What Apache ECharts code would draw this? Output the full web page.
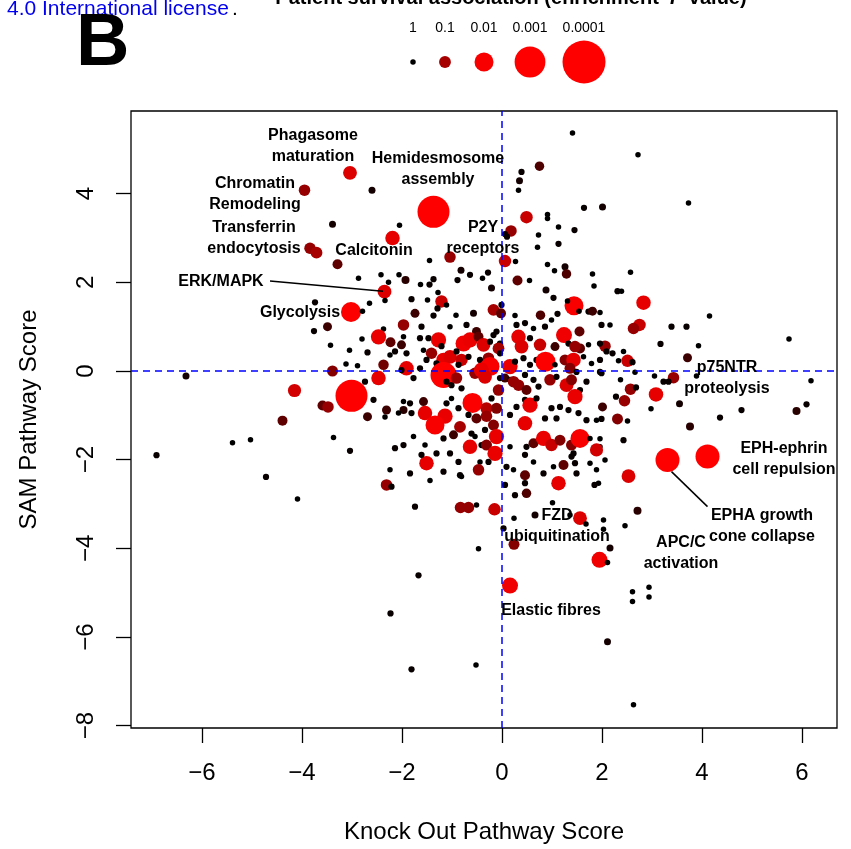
<!DOCTYPE html>
<html>
<head>
<meta charset="utf-8">
<title>Knock Out vs SAM pathway score</title>
<script src="https://cdn.jsdelivr.net/npm/echarts@6/dist/echarts.min.js"></script>
<style>
  html, body { margin: 0; padding: 0; background: #fff; }
  #chart { width: 851px; height: 849px; }
</style>
</head>
<body>
<div id="chart"></div>
<script>
// each point: [knock out pathway score, SAM pathway score, -log10 survival P]
var upperLeft = [
  [-3.04, 4.47, 1.4], [-2.60, 4.08, 0.2], [-3.95, 4.08, 0.9], [-3.39, 3.31, 0.2],
  [-3.84, 2.77, 0.9], [-3.71, 2.67, 1.0], [-3.29, 2.41, 0.6], [-2.87, 2.09, 0],
  [-3.74, 1.55, 0.1], [-3.02, 1.33, 2.1], [-2.79, 1.35, 0], [-2.65, 1.53, 0],
  [-2.35, 1.79, 1.4]
]
var upperMiddle = [
  [1.41, 5.37, 0], [0.75, 4.62, 0.5], [0.39, 4.49, 0.1], [0.35, 4.29, 0.2], [0.33, 4.08, 0],
  [-1.37, 3.59, 3.1], [1.64, 3.68, 0.1], [2.01, 3.70, 0.2], [0.49, 3.47, 1.2], [0.91, 3.53, 0],
  [0.91, 3.44, 0], [-2.05, 3.29, 0], [-2.19, 3.00, 1.5], [0.18, 3.16, 0.9], [0.06, 3.09, 0.1],
  [0.10, 3.03, 0.1], [1.13, 3.25, 0], [1.45, 3.18, 0.1], [0.73, 3.07, 0], [1.13, 2.87, 0.1],
  [0.71, 2.79, 0], [-1.04, 2.57, 0.9], [-1.45, 2.49, 0], [0.06, 2.48, 1.2], [0.27, 2.47, 0],
  [0.91, 2.40, 0], [1.05, 2.26, 0], [1.26, 2.35, 0.2], [1.29, 2.19, 0.5], [1.81, 2.19, 0],
  [1.84, 1.92, 0], [-0.82, 2.27, 0.2], [-0.64, 2.17, 0.1], [-0.28, 2.22, 0.1], [-0.39, 2.09, 0],
  [-0.89, 2.05, 0.1], [-1.37, 2.07, 0.1], [-1.93, 2.05, 0.3], [-2.42, 2.17, 0], [-2.27, 2.00, 0],
  [-2.06, 2.17, 0], [-1.63, 1.95, 0], [-1.45, 1.95, 0.1], [-1.28, 1.77, 0], [-2.34, 1.59, 0],
  [-1.81, 1.62, 0.1], [-1.49, 1.60, 0], [-1.21, 1.57, 1.2], [-1.29, 1.41, 0.1], [-1.11, 1.49, 0],
  [-0.21, 1.87, 0.2], [0.31, 2.04, 0.6], [0.55, 2.04, 0], [0.88, 1.83, 0.2], [1.03, 1.65, 0.1],
  [1.44, 1.47, 2.0], [1.31, 1.58, 0], [1.73, 1.34, 0.1], [1.81, 1.35, 0.4], [1.54, 1.35, 0],
  [-1.74, 1.30, 0.4], [-1.37, 1.25, 0.1], [-0.92, 1.26, 0], [-0.57, 1.30, 0.2], [-0.17, 1.38, 1.0],
  [-0.01, 1.49, 0.1], [-0.02, 1.30, 0.6], [0.26, 1.25, 0], [0.77, 1.26, 0.5], [1.11, 1.29, 0.1],
  [1.96, 1.32, 0]
]
var rightSide = [
  [2.72, 4.88, 0], [3.73, 3.79, 0], [2.57, 2.23, 0], [2.31, 1.80, 0.1], [2.39, 1.80, 0],
  [2.83, 1.54, 1.5], [4.15, 1.24, 0], [2.75, 1.04, 1.2], [2.63, 0.96, 0.9], [1.99, 1.04, 0.1],
  [2.16, 1.04, 0], [3.39, 1.00, 0.1], [3.69, 1.00, 0.1], [5.74, 0.72, 0], [3.17, 0.61, 0.1],
  [3.93, 0.57, 0], [2.06, 0.56, 0.9], [2.09, 0.44, 0.1], [2.21, 0.40, 0.1], [2.43, 0.44, 0],
  [2.33, 0.23, 0], [2.51, 0.23, 1.2], [2.61, 0.20, 0.1], [3.71, 0.30, 0.4], [1.99, -0.05, 0.1],
  [2.66, -0.03, 0], [3.05, -0.11, 0], [3.43, -0.15, 0.9], [3.23, -0.24, 0.1], [3.33, -0.24, 0.1],
  [3.89, -0.11, 0], [2.37, -0.20, 0], [6.18, -0.22, 0], [2.57, -0.41, 0.9], [2.68, -0.37, 0.1],
  [3.08, -0.53, 1.5], [2.28, -0.58, 0.1], [2.45, -0.67, 0.9], [3.55, -0.74, 0.2], [2.01, -0.81, 0.4],
  [2.98, -0.85, 0], [4.79, -0.88, 0.1], [6.09, -0.75, 0.1], [5.89, -0.90, 0.3], [1.99, -1.08, 0.1],
  [2.31, -1.08, 0.8], [2.51, -1.13, 0], [4.36, -1.05, 0.1], [3.76, -1.25, 0.3], [2.43, -1.56, 0.1],
  [1.96, -1.53, 0], [1.96, -1.71, 0], [3.31, -2.01, 2.4], [4.11, -1.93, 2.4], [2.06, -2.01, 0],
  [2.53, -2.37, 1.4], [2.71, -3.15, 0.3]
]
var lowerTail = [
  [2.46, -3.49, 0], [2.03, -3.36, 0], [2.03, -3.57, 0], [2.16, -3.99, 0.2], [1.95, -4.26, 1.7],
  [2.11, -4.32, 0], [2.61, -4.98, 0], [2.61, -5.20, 0], [2.94, -4.88, 0], [2.94, -5.10, 0],
  [2.11, -6.11, 0.2], [2.63, -7.53, 0], [-0.83, -3.08, 0.9], [-0.67, -3.08, 0.9], [-0.15, -3.12, 1.2],
  [0.24, -3.32, 0], [0.66, -3.25, 0.2], [1.36, -3.25, 0], [1.56, -3.32, 1.4], [1.68, -3.45, 0],
  [0.03, -3.55, 0.1], [0.24, -3.91, 0.8], [-0.47, -4.01, 0], [-1.67, -4.61, 0.1], [0.16, -4.84, 1.7],
  [-2.23, -5.47, 0.1], [-1.81, -6.73, 0.1], [-0.52, -6.63, 0]
]
var leftSide = [
  [-3.76, 0.90, 0.1], [-3.49, 1.00, 0.4], [-3.43, 0.58, 0], [-2.80, 0.72, 0], [-3.05, 0.47, 0],
  [-2.69, 0.42, 0.1], [-3.12, 0.16, 0], [-2.89, 0.12, 0], [-3.39, 0.00, 0.8], [-6.32, -0.11, 0.2],
  [-2.74, -0.24, 0.1], [-4.15, -0.44, 1.3], [-3.01, -0.56, 3.1], [-3.59, -0.78, 0.6], [-3.48, -0.81, 0.9],
  [-2.69, -1.03, 0.4], [-4.39, -1.12, 0.6], [-3.37, -1.50, 0], [-5.03, -1.55, 0], [-5.39, -1.62, 0],
  [-6.91, -1.90, 0.1], [-3.04, -1.80, 0.1], [-4.72, -2.39, 0.1], [-4.09, -2.89, 0]
]
var centre = [
  [-2.37, 0.95, 0], [-1.97, 1.04, 0.9], [-1.61, 1.00, 0.1], [-1.04, 1.00, 0], [-0.71, 1.04, 0.1],
  [-0.51, 0.89, 0.4], [-0.11, 0.89, 0.1], [0.29, 1.04, 0.1], [0.46, 1.08, 0.1], [0.63, 0.96, 0],
  [0.86, 1.00, 0.1], [0.99, 1.15, 0], [1.24, 0.81, 1.7], [1.55, 0.89, 0.6], [-2.47, 0.77, 1.6],
  [-2.23, 0.65, 0.6], [-2.01, 0.59, 0.4], [-1.97, 0.77, 0], [-1.64, 0.74, 0.1], [-1.47, 0.74, 0.1],
  [-1.27, 0.70, 1.6], [-1.21, 0.56, 0.1], [-1.57, 0.47, 0], [-0.77, 0.62, 1.7], [-0.64, 0.70, 1.6],
  [-0.47, 0.77, 0.6], [-0.37, 0.59, 1.4], [-0.24, 0.66, 0.1], [-0.17, 0.81, 0.1], [-0.04, 0.62, 0.1],
  [-0.07, 0.51, 1.0], [0.33, 0.77, 1.5], [0.39, 0.55, 1.4], [0.56, 0.74, 0.1], [0.76, 0.59, 1.2],
  [1.06, 0.55, 0.4], [1.33, 0.62, 0.1], [1.56, 0.51, 0.6], [1.46, 0.55, 0.9], [1.73, 0.59, 0],
  [1.96, 0.62, 0.1], [-2.24, 0.36, 0], [-2.14, 0.44, 0.1], [-1.91, 0.40, 0.1], [-1.41, 0.40, 0.9],
  [-1.17, 0.25, 1.5], [-1.04, 0.32, 1.4], [-0.91, 0.44, 0.1], [-0.81, 0.25, 1.2], [-0.87, 0.14, 0.1],
  [-0.67, 0.32, 0.1], [-0.44, 0.25, 0.1], [-0.27, 0.29, 0.9], [-0.24, 0.10, 2.0], [-0.04, 0.40, 0.1],
  [0.16, 0.10, 1.6], [0.26, 0.21, 0.1], [0.43, 0.29, 0.1], [0.56, 0.14, 0.1], [0.69, 0.25, 0.1],
  [0.87, 0.21, 2.1], [1.06, 0.14, 0], [1.26, 0.25, 0.8], [1.43, 0.25, 1.5], [1.36, 0.06, 0.8],
  [1.63, 0.32, 0], [1.79, 0.17, 0], [1.96, 0.25, 0.1], [-1.91, 0.06, 1.5], [-2.01, 0.02, 0.1],
  [-2.37, 0.14, 0.7], [-1.64, 0.06, 0.1], [-1.51, 0.25, 0.1], [-1.31, 0.17, 0.1], [-2.47, -0.16, 1.5],
  [-1.77, -0.16, 0.1], [-1.17, -0.09, 2.6], [-1.11, -0.24, 0.1], [-1.01, -0.32, 0.1], [-0.91, -0.16, 0.9],
  [-0.81, -0.39, 0.1], [-0.54, -0.05, 0.9], [-0.41, 0.02, 1.6], [-0.34, -0.13, 1.4], [-0.04, -0.16, 0.1],
  [0.06, -0.16, 0.4], [-0.07, -0.43, 0.9], [0.16, -0.20, 0.1], [0.23, -0.24, 0.9], [0.33, -0.32, 0.9],
  [0.46, -0.09, 0.1], [0.49, -0.43, 0.6], [0.63, -0.20, 0.1], [0.73, -0.35, 0.1], [0.96, -0.20, 0.9],
  [1.09, -0.13, 0.1], [1.29, -0.32, 1.4], [1.39, -0.20, 0.8], [1.49, -0.02, 0.1], [1.56, -0.43, 0.1],
  [1.69, -0.24, 0.1], [1.96, -0.02, 0.1], [-2.57, -0.65, 0.1], [-1.97, -0.69, 0], [-1.84, -0.73, 0.1],
  [-1.57, -0.69, 0.4], [-1.97, -0.88, 0.3], [-2.31, -0.88, 0.4], [-2.34, -1.04, 0], [-2.07, -0.95, 0],
  [-1.81, -0.95, 0.1], [-1.54, -0.95, 1.5], [-1.14, -1.02, 1.6], [-1.34, -1.22, 2.0], [-1.11, -0.73, 0.1],
  [-0.87, -0.84, 0.1], [-1.01, -0.62, 0], [-0.59, -0.72, 2.1], [-0.67, -0.99, 0.1], [-0.51, -1.07, 0.6],
  [-0.31, -0.84, 1.1], [-0.31, -1.02, 0.9], [-0.11, -0.84, 0.8], [-0.21, -0.62, 0.1], [0.16, -0.99, 0.1],
  [0.29, -0.81, 0.1], [0.46, -0.65, 0.1], [0.56, -0.77, 1.6], [0.69, -0.62, 0.1], [0.86, -1.07, 0.1],
  [0.99, -0.84, 0.1], [1.09, -1.07, 0.1], [1.16, -0.81, 0.1], [1.33, -0.88, 0.1], [1.46, -0.58, 1.6],
  [1.53, -0.95, 0.1], [1.69, -1.11, 0.1], [1.89, -1.11, 0], [0.46, -1.18, 1.5], [-0.84, -1.26, 1.0],
  [-1.17, -1.52, 0.1], [-0.97, -1.44, 0.4], [-0.61, -1.41, 0.1], [-0.54, -1.48, 0], [-0.34, -1.33, 0.1],
  [-0.17, -1.22, 0.8], [-0.11, -1.48, 1.6], [-0.41, -1.67, 0.1], [-0.31, -1.67, 0.8], [-0.64, -1.71, 1.5],
  [0.16, -1.71, 0], [0.49, -1.71, 0.1], [0.63, -1.63, 0.6], [0.83, -1.52, 1.6], [0.99, -1.67, 1.2],
  [1.16, -1.56, 0.8], [1.39, -1.67, 0.8], [1.56, -1.52, 2.0], [1.76, -1.52, 0], [1.43, -1.86, 0.1],
  [1.89, -1.78, 1.3], [-1.77, -1.48, 0], [-1.97, -1.67, 0.1], [-2.14, -1.74, 0.1], [-1.54, -1.67, 0],
  [-1.51, -2.08, 1.5], [-1.61, -1.89, 0.1], [-1.31, -1.86, 0.1], [-1.04, -1.86, 0.1], [-0.87, -2.05, 0.1],
  [-0.44, -2.05, 0], [-0.27, -2.05, 0.1], [-0.14, -1.86, 1.6], [0.09, -2.16, 0.1], [0.23, -2.23, 0],
  [0.46, -1.89, 0.1], [0.63, -2.05, 0], [0.83, -2.31, 0.1], [1.03, -2.16, 0], [1.23, -2.12, 0.6],
  [1.39, -1.93, 0.1], [1.46, -2.08, 0.1], [1.49, -2.31, 0.1], [1.76, -2.08, 0], [1.89, -2.23, 0],
  [-0.47, -2.23, 0.9], [-1.17, -2.27, 0.1], [-0.84, -2.35, 0.1], [-1.84, -2.31, 0.1], [-2.24, -2.23, 0],
  [0.46, -2.35, 0.6], [0.46, -2.53, 0.1], [0.06, -2.57, 0.1], [-2.31, -2.57, 0.9], [-2.21, -2.61, 0.1],
  [-1.44, -2.47, 0], [-0.81, -2.38, 0], [0.26, -2.80, 0.1], [0.49, -2.76, 0.5], [1.13, -2.53, 1.5],
  [1.93, -2.53, 0], [1.85, -2.57, 0.1], [1.01, -2.97, 0], [-1.74, -3.06, 0.1], [-0.51, -3.02, 0]
]

var ticksX = [-6, -4, -2, 0, 2, 4, 6]
var ticksY = [-8, -6, -4, -2, 0, 2, 4]
var legendP = [1, 0.1, 0.01, 0.001, 0.0001]
var legendText = ['1', '0.1', '0.01', '0.001', '0.0001']

// labelled pathways, placed at their centre in axis units
var pathwayLabels = [
  { name: 'Phagasome\nmaturation', value: [-3.78, 5.08] },
  { name: 'Hemidesmosome\nassembly', value: [-1.28, 4.56] },
  { name: 'Chromatin\nRemodeling', value: [-4.94, 3.99] },
  { name: 'Transferrin\nendocytosis', value: [-4.96, 3.00] },
  { name: 'Calcitonin', value: [-2.56, 2.71] },
  { name: 'P2Y\nreceptors', value: [-0.38, 3.00] },
  { name: 'ERK/MAPK', value: [-5.62, 2.01] },
  { name: 'Glycolysis', value: [-4.04, 1.31] },
  { name: 'p75NTR\nproteolysis', value: [4.50, -0.16] },
  { name: 'EPH-ephrin\ncell repulsion', value: [5.64, -1.99] },
  { name: 'EPHA growth\ncone collapse', value: [5.20, -3.50] },
  { name: 'APC/C\nactivation', value: [3.58, -4.11] },
  { name: 'FZD\nubiquitination', value: [1.10, -3.50] },
  { name: 'Elastic fibres', value: [0.98, -5.41] }
]
var connectors = [
  [[-4.64, 2.03], [-2.38, 1.80]],
  [[3.39, -2.27], [4.11, -3.06]]
]

var allPoints = upperLeft.concat(upperMiddle, rightSide, lowerTail, leftSide, centre)

var FONT = '"Liberation Sans", Arial, Helvetica, sans-serif'

var sizeKnots = [[0, 5.5], [0.2, 7], [0.4, 9], [0.6, 10], [0.9, 11.5], [1.2, 12.5], [1.5, 14.5],
  [1.7, 16], [2.1, 20], [2.4, 24], [2.6, 26], [3.1, 32], [4, 43]]
var redKnots = [[0, 0], [0.1, 8], [0.2, 20], [0.4, 60], [0.6, 95], [0.9, 150], [1.2, 200],
  [1.5, 230], [1.7, 240], [2.1, 252], [2.4, 255]]

function interp (knots, s) {
  if (s <= knots[0][0]) return knots[0][1]
  for (var i = 1; i < knots.length; i++) {
    if (s <= knots[i][0]) {
      var a = knots[i - 1], b = knots[i]
      return a[1] + (b[1] - a[1]) * (s - a[0]) / (b[0] - a[0])
    }
  }
  return knots[knots.length - 1][1]
}
function sizeOf (s) { return interp(sizeKnots, s) }
function colorOf (s) { return 'rgb(' + Math.round(interp(redKnots, s)) + ',0,0)' }

function minusFmt (v) { return v < 0 ? '\u2212' + Math.abs(v) : String(v) }

var chart = echarts.init(document.getElementById('chart'))

// legend keys on top
var legendGraphics = []
var keyX = [413, 445, 484, 530, 584]
legendP.forEach(function (p, i) {
  var s = -Math.log10(p)
  legendGraphics.push({
    type: 'circle', shape: { cx: keyX[i], cy: 62, r: sizeOf(s) / 2 },
    style: { fill: colorOf(s) }
  })
  legendGraphics.push({
    type: 'text', x: keyX[i], y: 28,
    style: { text: legendText[i], fontSize: 14, fontFamily: FONT, fill: '#000', align: 'center', verticalAlign: 'middle' }
  })
})

var option = {
  backgroundColor: '#fff',
  animation: false,
  grid: {
    left: 131, right: 14, top: 111, bottom: 121,
    show: true, borderColor: '#000', borderWidth: 1.3, backgroundColor: 'transparent'
  },
  xAxis: {
    type: 'value', min: -7.42, max: 6.70,
    splitLine: { show: false },
    axisLine: { show: false, onZero: false },
    axisTick: { show: true, customValues: ticksX, length: 15, lineStyle: { color: '#000', width: 1.3 } },
    axisLabel: { customValues: ticksX, formatter: minusFmt, fontSize: 24, fontFamily: FONT, color: '#000', margin: 33 },
    name: 'Knock Out Pathway Score', nameLocation: 'middle', nameGap: 92,
    nameTextStyle: { fontSize: 24, fontFamily: FONT, color: '#000' }
  },
  yAxis: {
    type: 'value', min: -8.053, max: 5.865,
    splitLine: { show: false },
    axisLine: { show: false, onZero: false },
    axisTick: { show: true, customValues: ticksY, length: 15, lineStyle: { color: '#000', width: 1.3 } },
    axisLabel: { customValues: ticksY, formatter: minusFmt, rotate: 90, fontSize: 24, fontFamily: FONT, color: '#000', margin: 33 },
    name: 'SAM Pathway Score', nameLocation: 'middle', nameGap: 90,
    nameTextStyle: { fontSize: 24, fontFamily: FONT, color: '#000' }
  },
  graphic: [
    { type: 'text', x: 7, y: -1, style: { text: '4.0 International license', fontSize: 21, fontFamily: FONT, fill: '#0000ee' } },
    { type: 'text', x: 232, y: -1, style: { text: '.', fontSize: 21, fontFamily: FONT, fill: '#000' } },
    { type: 'text', x: 76, y: 8, style: { text: 'B', fontSize: 74, fontWeight: 'bold', fontFamily: FONT, fill: '#000' } },
    {
      type: 'text', x: 511, y: -12,
      style: {
        text: '{b|Patient survival association (enrichment  }{i|P}{b| value)}',
        align: 'center',
        rich: {
          b: { fontSize: 20, fontWeight: 'bold', fontFamily: FONT, fill: '#000' },
          i: { fontSize: 20, fontWeight: 'bold', fontStyle: 'italic', fontFamily: FONT, fill: '#000' }
        }
      }
    }
  ].concat(legendGraphics),
  series: [
    {
      // dashed zero lines
      type: 'scatter', data: [], z: 1, silent: true,
      markLine: {
        silent: true, symbol: ['none', 'none'], label: { show: false },
        lineStyle: { color: '#0000ff', type: [7, 5], width: 1.5 },
        data: [{ xAxis: 0 }, { yAxis: 0 }]
      }
    },
    {
      type: 'scatter', z: 3, silent: true,
      data: allPoints,
      symbolSize: function (v) { return sizeOf(v[2]) },
      itemStyle: { color: function (p) { return colorOf(p.value[2]) }, opacity: 1 }
    },
    {
      type: 'scatter', z: 5, silent: true,
      symbolSize: 0,
      itemStyle: { color: 'rgba(0,0,0,0)', opacity: 1 },
      data: pathwayLabels,
      label: {
        show: true, position: 'inside', formatter: '{b}',
        fontSize: 16, fontWeight: 'bold', fontFamily: FONT, color: '#000',
        textBorderWidth: 0, lineHeight: 21, align: 'center', verticalAlign: 'middle'
      },
      markLine: {
        silent: true, symbol: ['none', 'none'], label: { show: false },
        lineStyle: { color: '#000', type: 'solid', width: 1.5, opacity: 1 },
        data: connectors.map(function (c) { return [{ coord: c[0] }, { coord: c[1] }] })
      }
    }
  ]
}

chart.setOption(option)
</script>
</body>
</html>
